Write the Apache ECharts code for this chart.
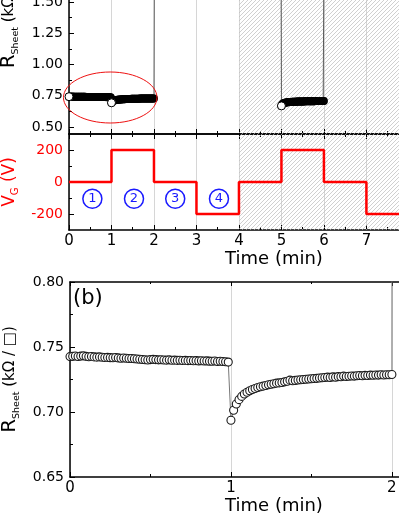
<!DOCTYPE html>
<html><head><meta charset="utf-8">
<script src="https://cdn.jsdelivr.net/npm/echarts@6/dist/echarts.min.js"></script>
<style>html,body{margin:0;padding:0;background:#fff}#c{width:399px;height:516px}</style>
</head><body><div id="c"></div>
<script>
// ---------- data ----------
const samplePeriodMin = 1 / 60;          // one reading per second
const seg1Start = 0, seg2Start = 1, seg3Start = 5;
const seg1R = [0.7426,0.7428,0.7431,0.7427,0.7430,0.7432,0.7428,0.7425,0.7427,0.7424,
  0.7422,0.7424,0.7421,0.7419,0.7420,0.7418,0.7417,0.7419,0.7416,0.7414,
  0.7415,0.7413,0.7411,0.7412,0.7410,0.7408,0.7406,0.7404,0.7402,0.7400,
  0.7403,0.7405,0.7403,0.7401,0.7402,0.7400,0.7399,0.7401,0.7398,0.7399,
  0.7397,0.7398,0.7396,0.7397,0.7395,0.7396,0.7394,0.7395,0.7393,0.7394,
  0.7392,0.7393,0.7391,0.7390,0.7392,0.7389,0.7390,0.7388,0.7386,0.7384];
const seg2R = [0.6936,0.7013,0.7062,0.7095,0.7120,0.7138,0.7152,0.7163,0.7173,0.7181,
  0.7188,0.7194,0.7199,0.7204,0.7210,0.7214,0.7217,0.7222,0.7224,0.7227,
  0.7232,0.7236,0.7245,0.7240,0.7243,0.7246,0.7248,0.7250,0.7252,0.7254,
  0.7256,0.7258,0.7259,0.7261,0.7263,0.7265,0.7268,0.7266,0.7270,0.7268,
  0.7272,0.7271,0.7276,0.7273,0.7275,0.7277,0.7276,0.7279,0.7281,0.7279,
  0.7282,0.7281,0.7284,0.7283,0.7285,0.7284,0.7286,0.7285,0.7287,0.7286,
  0.7288];
const seg3R = [0.669,0.681,0.687,0.691,0.693,0.695,0.696,0.697,0.698,0.699,
  0.699,0.700,0.700,0.701,0.701,0.702,0.702,0.702,0.703,0.703,
  0.703,0.703,0.704,0.704,0.704,0.704,0.704,0.705,0.705,0.705,
  0.705,0.705,0.705,0.706,0.706,0.706,0.706,0.706,0.706,0.706,
  0.707,0.707,0.707,0.707,0.707,0.707,0.707,0.707,0.708,0.708,
  0.708,0.708,0.708,0.708,0.708,0.708,0.708,0.709,0.709,0.709,
  0.709];
// readings that run off the top of the scale (jumps at 2, 5, 6 min)
const offScaleTimes = [2.0167, 4.9833, 6.0167, 7.9];
const offScaleR = [3.0, 3.0, 3.0, 3.0];
// gate voltage program
const vgTimes = [0, 1, 2, 3, 4, 5, 6, 7, 10];
const vgValues = [0, 200, 0, -200, 0, 200, 0, -200, -200];
// numbered phases
const phaseNames = ['1', '2', '3', '4'];
const phaseTimes = [0.55, 1.53, 2.5, 3.53];
const phaseV = [-105, -105, -105, -105];
// tick labels
const rTopLabels = [0.5, 0.75, 1.0, 1.25, 1.5];
const rTopMinor = [0.625, 0.875, 1.125, 1.375];
const vgLabels = [-200, 0, 200];
const vgMinor = [-100, 100];
const timeLabelsB = [0, 1, 2];
// annotation ellipse (data units)
const ellipseCenter = [0.97, 0.736];
const ellipseRadii = [1.1, 0.204];

// ---------- build ----------
const seg = (start, arr) => arr.map((v, i) => [start + i * samplePeriodMin, v]);
const s1 = seg(seg1Start, seg1R), s2 = seg(seg2Start, seg2R), s3 = seg(seg3Start, seg3R);
const off = offScaleTimes.map((t, i) => [t, offScaleR[i]]);
const linkA = [...s1, ...s2, off[0], off[1], ...s3, off[2], off[3]];
const allA = [...s1, ...s2, ...s3];
const startsA = [s1[0], s2[0], s3[0]];
const linkB = [...s1, ...s2, off[0]];
const ptsB = [...s1, ...s2];
const vg = vgTimes.map((t, i) => [t, vgValues[i]]);
const phases = phaseTimes.map((t, i) => [t, phaseV[i], phaseNames[i]]);

const tile = document.createElement('canvas');
tile.width = 4; tile.height = 4;
const g = tile.getContext('2d');
g.strokeStyle = '#bcbcbc'; g.lineWidth = 0.7;
g.beginPath();
g.moveTo(0, 4); g.lineTo(4, 0);
g.moveTo(-1, 1); g.lineTo(1, -1);
g.moveTo(3, 5); g.lineTo(5, 3);
g.stroke();
const hatch = { image: tile, repeat: 'repeat' };

const FONT = 'DejaVu Sans';
const axLine = { show: true, onZero: false, lineStyle: { color: '#000', width: 1.5 } };
const grayGrid = { show: true, lineStyle: { color: '#d6d6d6', width: 1 } };
const rName = '{r|R}{s|Sheet}{u| (kΩ / □)}';
const rRich = {
  r: { fontSize: 20, fontFamily: FONT, color: '#000', lineHeight: 24 },
  s: { fontSize: 9.5, fontFamily: FONT, color: '#000', lineHeight: 7, verticalAlign: 'bottom' },
  u: { fontSize: 15, fontFamily: FONT, color: '#000', lineHeight: 24 }
};
const gridBase = { outerBoundsMode: 'none', containLabel: false };

const chart = echarts.init(document.getElementById('c'), null, { renderer: 'canvas' });
chart.setOption({
  animation: false,
  backgroundColor: '#fff',
  textStyle: { fontFamily: FONT },
  grid: [
    Object.assign({ left: 69, width: 410, top: -104, height: 238 }, gridBase),
    Object.assign({ left: 69, width: 410, top: 134, height: 96 }, gridBase),
    Object.assign({ left: 70, width: 408, top: 282, height: 195 }, gridBase)
  ],
  xAxis: [
    { gridIndex: 0, type: 'value', min: 0, max: 9.65, interval: 1, axisLine: axLine,
      axisTick: { show: true, inside: true, length: 5, lineStyle: { color: '#000' } },
      minorTick: { show: true, splitNumber: 2, length: 3, lineStyle: { color: '#000' } },
      axisLabel: { show: false }, splitLine: grayGrid },
    { gridIndex: 1, type: 'value', min: 0, max: 9.65, interval: 1, axisLine: axLine,
      axisTick: { show: true, inside: true, length: 5, lineStyle: { color: '#000' } },
      minorTick: { show: true, splitNumber: 2, length: 3, lineStyle: { color: '#000' } },
      axisLabel: { show: true, fontSize: 15, color: '#000', margin: 4, fontFamily: FONT },
      splitLine: grayGrid,
      name: 'Time (min)', nameLocation: 'middle', nameGap: 18,
      nameTextStyle: { fontSize: 18, color: '#000', fontFamily: FONT } },
    { gridIndex: 1, type: 'value', position: 'top', min: 0, max: 9.65, interval: 1, axisLine: axLine,
      axisTick: { show: true, inside: true, length: 5, lineStyle: { color: '#000' } },
      minorTick: { show: true, splitNumber: 2, length: 3, lineStyle: { color: '#000' } },
      axisLabel: { show: false }, splitLine: { show: false } },
    { gridIndex: 2, type: 'value', min: 0, max: 2.535, interval: 1, axisLine: axLine,
      axisTick: { show: true, inside: true, length: 5, lineStyle: { color: '#000' } },
      minorTick: { show: true, splitNumber: 2, length: 3, lineStyle: { color: '#000' } },
      axisLabel: { show: true, fontSize: 15, color: '#000', margin: 4, fontFamily: FONT,
        formatter: v => timeLabelsB.includes(v) ? String(v) : '' },
      splitLine: grayGrid,
      name: 'Time (min)', nameLocation: 'middle', nameGap: 18,
      nameTextStyle: { fontSize: 18, color: '#000', fontFamily: FONT } },
    { gridIndex: 2, type: 'value', position: 'top', min: 0, max: 2.535, interval: 1, axisLine: axLine,
      axisTick: { show: true, inside: true, length: 4, lineStyle: { color: '#000' } },
      minorTick: { show: true, splitNumber: 2, length: 2, lineStyle: { color: '#000' } },
      axisLabel: { show: false }, splitLine: { show: false } }
  ],
  yAxis: [
    { gridIndex: 0, type: 'value', min: 0.444, max: 2.348, axisLine: axLine,
      axisTick: { show: true, inside: true, length: 5, customValues: rTopLabels, lineStyle: { color: '#000' } },
      axisLabel: { show: true, customValues: rTopLabels, fontSize: 14, color: '#000', margin: 6,
        formatter: v => v.toFixed(2) },
      splitLine: { show: false },
      name: rName, nameLocation: 'middle', nameGap: 41, nameRotate: 90,
      nameTextStyle: { rich: rRich } },
    { gridIndex: 0, type: 'value', min: 0.444, max: 2.348, position: 'left', axisLine: { show: false },
      axisTick: { show: true, inside: true, length: 3, customValues: rTopMinor, lineStyle: { color: '#000' } },
      axisLabel: { show: false }, splitLine: { show: false } },
    { gridIndex: 1, type: 'value', min: -300, max: 300, axisLine: axLine,
      axisTick: { show: true, inside: true, length: 5, customValues: vgLabels, lineStyle: { color: '#000' } },
      axisLabel: { show: true, customValues: vgLabels, fontSize: 14, color: '#ff0000', margin: 6 },
      splitLine: { show: false },
      name: '{v|V}{s|G}{v| (V)}', nameLocation: 'middle', nameGap: 41, nameRotate: 90,
      nameTextStyle: { rich: {
        v: { fontSize: 17, fontFamily: FONT, color: '#ff0000', lineHeight: 22 },
        s: { fontSize: 10, fontFamily: FONT, color: '#ff0000', lineHeight: 7, verticalAlign: 'bottom' } } } },
    { gridIndex: 1, type: 'value', min: -300, max: 300, position: 'left', axisLine: { show: false },
      axisTick: { show: true, inside: true, length: 3, customValues: vgMinor, lineStyle: { color: '#000' } },
      axisLabel: { show: false }, splitLine: { show: false } },
    { gridIndex: 2, type: 'value', min: 0.65, max: 0.80, interval: 0.05, axisLine: axLine,
      axisTick: { show: true, inside: true, length: 5, lineStyle: { color: '#000' } },
      minorTick: { show: true, splitNumber: 2, length: 3, lineStyle: { color: '#000' } },
      axisLabel: { show: true, fontSize: 14, color: '#000', margin: 6, formatter: v => v.toFixed(2) },
      splitLine: { show: false },
      name: rName, nameLocation: 'middle', nameGap: 41, nameRotate: 90,
      nameTextStyle: { rich: rRich } }
  ],
  series: [
    { type: 'line', xAxisIndex: 0, yAxisIndex: 0, data: [], z: 1, silent: true,
      markArea: { silent: true, itemStyle: { color: hatch }, data: [[{ xAxis: 4 }, { xAxis: 'max' }]] } },
    { type: 'line', xAxisIndex: 1, yAxisIndex: 2, data: [], z: 1, silent: true,
      markArea: { silent: true, itemStyle: { color: hatch }, data: [[{ xAxis: 4 }, { xAxis: 'max' }]] } },
    { type: 'line', xAxisIndex: 0, yAxisIndex: 0, data: linkA, symbol: 'none', z: 3,
      lineStyle: { color: '#5a5a5a', width: 1 } },
    { type: 'scatter', xAxisIndex: 0, yAxisIndex: 0, data: allA, symbolSize: 8, z: 4,
      itemStyle: { color: '#000', opacity: 1 } },
    { type: 'scatter', xAxisIndex: 0, yAxisIndex: 0, data: startsA, symbolSize: 8, z: 5,
      itemStyle: { color: '#fff', borderColor: '#000', borderWidth: 1, opacity: 1 } },
    { type: 'line', xAxisIndex: 1, yAxisIndex: 2, data: vg, step: 'end', symbol: 'none', z: 4,
      lineStyle: { color: '#ff0000', width: 2.5 } },
    { type: 'scatter', xAxisIndex: 1, yAxisIndex: 2, data: phases, symbolSize: 19, z: 4,
      itemStyle: { color: 'rgba(255,255,255,0)', borderColor: '#1a1aff', borderWidth: 1.5, opacity: 1 },
      label: { show: true, position: 'inside', formatter: p => p.value[2], color: '#1a1aff', fontSize: 13, fontFamily: FONT } },
    { type: 'line', xAxisIndex: 3, yAxisIndex: 4, data: linkB, symbol: 'none', z: 3,
      lineStyle: { color: '#777', width: 1 } },
    { type: 'scatter', xAxisIndex: 3, yAxisIndex: 4, data: ptsB, symbolSize: 8, z: 4,
      itemStyle: { color: '#fff', borderColor: '#1a1a1a', borderWidth: 1.1, opacity: 1 } }
  ]
});

const fA = { xAxisIndex: 0, yAxisIndex: 0 };
const c0 = chart.convertToPixel(fA, ellipseCenter);
const c1 = chart.convertToPixel(fA, [ellipseCenter[0] + ellipseRadii[0], ellipseCenter[1] + ellipseRadii[1]]);
const fB = { xAxisIndex: 3, yAxisIndex: 4 };
const bPos = chart.convertToPixel(fB, [0, 0.80]);
chart.setOption({
  graphic: [
    { type: 'ellipse', z: 10, silent: true,
      shape: { cx: c0[0], cy: c0[1], rx: Math.abs(c1[0] - c0[0]), ry: Math.abs(c1[1] - c0[1]) },
      style: { fill: 'none', stroke: '#ee1111', lineWidth: 1 } },
    { type: 'text', z: 10, silent: true, x: bPos[0] + 3, y: bPos[1] + 6,
      style: { text: '(b)', fontSize: 21, fontFamily: FONT, fill: '#000' } }
  ]
});
</script>
</body></html>
